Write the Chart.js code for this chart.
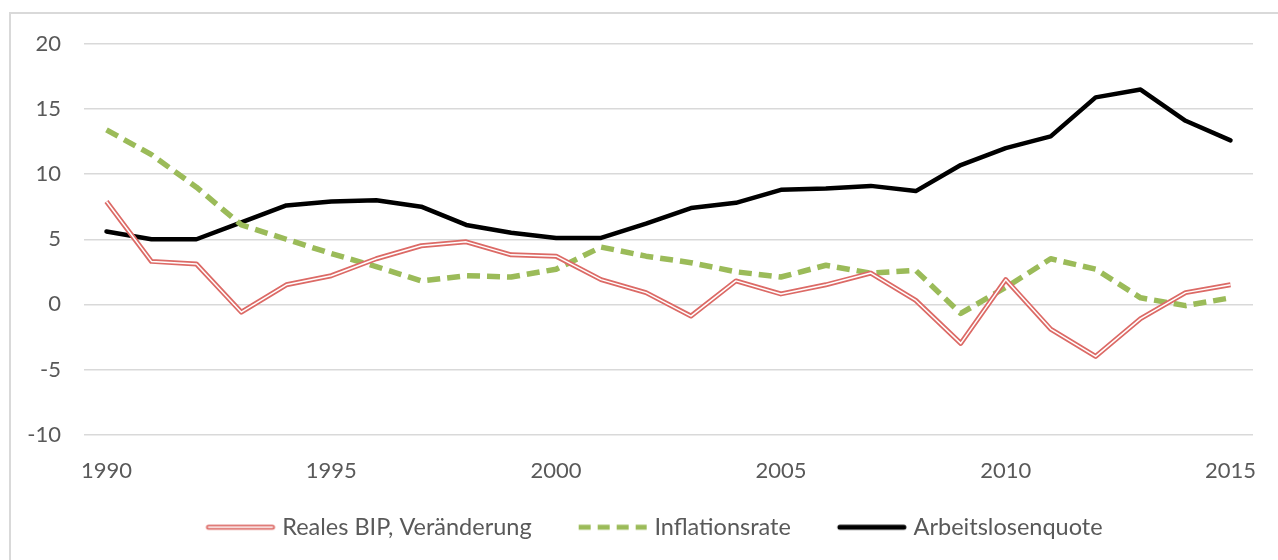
<!DOCTYPE html>
<html>
<head>
<meta charset="utf-8">
<script src="https://cdn.jsdelivr.net/npm/chart.js@4"></script>
<style>
  html, body { margin: 0; padding: 0; background: #fff; overflow: hidden; }
  #frame {
    position: absolute; left: 9px; top: 12px; width: 1400px; height: 700px;
    border-left: 2px solid #d9d9d9; border-top: 2px solid #d9d9d9;
  }
  #wrap { position: absolute; left: 0; top: 0; width: 1278px; height: 560px; }
</style>
</head>
<body>
<div id="frame"></div>
<div id="wrap"><canvas id="chart"></canvas></div>
<script>
"use strict";

const years = [
  1990, 1991, 1992, 1993, 1994, 1995, 1996, 1997, 1998, 1999, 2000, 2001, 2002,
  2003, 2004, 2005, 2006, 2007, 2008, 2009, 2010, 2011, 2012, 2013, 2014, 2015,
];
const bipChange = [
  7.9, 3.3, 3.1, -0.6, 1.5, 2.2, 3.5, 4.5, 4.8, 3.8, 3.7, 1.9, 0.9,
  -0.9, 1.8, 0.8, 1.5, 2.4, 0.3, -3.0, 1.9, -1.9, -4.0, -1.1, 0.9, 1.5,
];
const inflation = [
  13.4, 11.5, 9.0, 6.1, 5.0, 3.9, 2.9, 1.8, 2.2, 2.1, 2.7, 4.4, 3.7,
  3.2, 2.5, 2.1, 3.0, 2.4, 2.6, -0.7, 1.3, 3.5, 2.7, 0.5, -0.1, 0.5,
];
const unemployment = [
  5.6, 5.0, 5.0, 6.3, 7.6, 7.9, 8.0, 7.5, 6.1, 5.5, 5.1, 5.1, 6.2,
  7.4, 7.8, 8.8, 8.9, 9.1, 8.7, 10.7, 12.0, 12.9, 15.9, 16.5, 14.1, 12.6,
];
const seriesLabels = ["Reales BIP, Veränderung", "Inflationsrate", "Arbeitslosenquote"];

const red = "#dc6a66";
const green = "#9bbb59";
const black = "#000000";
const textColor = "#595959";

// Legend samples: the box is 100 wide, the image 116 wide and centred on it.
// The line sits at the right so the blank left part spaces the items apart.
function sample(draw) {
  const c = document.createElement("canvas");
  c.width = 116;
  c.height = 10;
  const ctx = c.getContext("2d");
  ctx.lineCap = "round";
  draw(ctx);
  return c;
}
const redSample = sample((ctx) => {
  ctx.strokeStyle = red; ctx.lineWidth = 5;
  ctx.beginPath(); ctx.moveTo(46, 5); ctx.lineTo(110, 5); ctx.stroke();
  ctx.strokeStyle = "#fff"; ctx.lineWidth = 1.5;
  ctx.beginPath(); ctx.moveTo(46, 5); ctx.lineTo(110, 5); ctx.stroke();
});
const greenSample = sample((ctx) => {
  ctx.strokeStyle = green; ctx.lineWidth = 5; ctx.lineCap = "butt";
  ctx.setLineDash([12, 7]);
  ctx.beginPath(); ctx.moveTo(44, 5); ctx.lineTo(112, 5); ctx.stroke();
});
const blackSample = sample((ctx) => {
  ctx.strokeStyle = black; ctx.lineWidth = 5;
  ctx.beginPath(); ctx.moveTo(46, 5); ctx.lineTo(110, 5); ctx.stroke();
});

Chart.defaults.font.family = "Lato, 'Open Sans', sans-serif";
Chart.defaults.font.size = 22;
Chart.defaults.color = textColor;

new Chart(document.getElementById("chart"), {
  type: "line",
  data: {
    labels: years.map(String),
    datasets: [
      {
        label: seriesLabels[0],
        data: bipChange,
        borderColor: red,
        borderWidth: 5,
        pointRadius: 0,
        pointStyle: redSample,
        borderJoinStyle: "round",
        order: 1,
      },
      {
        label: seriesLabels[1],
        data: inflation,
        borderColor: green,
        borderWidth: 5.5,
        borderDash: [13, 7],
        pointRadius: 0,
        pointStyle: greenSample,
        borderJoinStyle: "round",
        order: 2,
      },
      {
        label: seriesLabels[2],
        data: unemployment,
        borderColor: black,
        borderWidth: 4.5,
        pointRadius: 0,
        pointStyle: blackSample,
        borderJoinStyle: "round",
        borderCapStyle: "round",
        order: 3,
      },
      {
        // inner white stroke of the double line
        label: "inner",
        data: bipChange,
        borderColor: "#ffffff",
        borderWidth: 1.5,
        pointRadius: 0,
        borderJoinStyle: "round",
        order: 0,
      },
    ],
  },
  options: {
    responsive: true,
    maintainAspectRatio: false,
    animation: false,
    layout: { padding: { left: 20, right: 25, top: 44, bottom: 11 } },
    plugins: {
      tooltip: { enabled: false },
      legend: {
        position: "bottom",
        labels: {
          usePointStyle: true,
          pointStyleWidth: 100,
          padding: 11,
          color: textColor,
          font: { size: 23.5 },
          filter: (item) => item.datasetIndex < 3,
        },
      },
    },
    scales: {
      x: {
        type: "category",
        offset: true,
        grid: { display: false },
        border: { display: false },
        afterFit: (scale) => {
          scale.height = 70;
        },
        ticks: {
          autoSkip: false,
          maxRotation: 0,
          padding: 15,
          color: textColor,
          callback: (value, index) => (years[index] % 5 === 0 ? years[index] : ""),
        },
      },
      y: {
        min: -10,
        max: 20,
        border: { display: false },
        grid: { color: "#d9d9d9", lineWidth: 1.5, drawTicks: false },
        afterFit: (scale) => {
          scale.width = 64;
        },
        ticks: { stepSize: 5, padding: 23, color: textColor },
      },
    },
  },
});
</script>
</body>
</html>
